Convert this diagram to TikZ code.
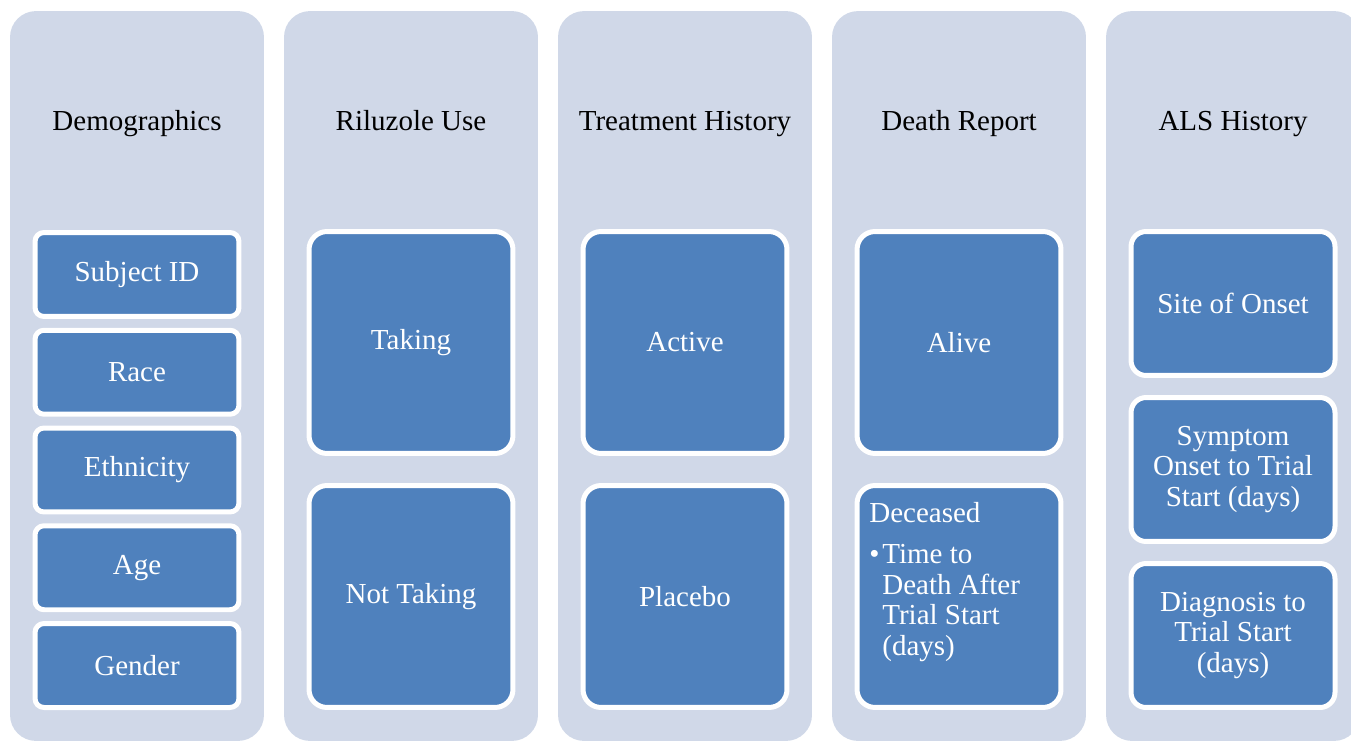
\documentclass[tikz,border=0pt]{standalone}
\usepackage{fontspec}
\setmainfont{Liberation Serif}
\usetikzlibrary{positioning}
\definecolor{colfill}{HTML}{D0D8E8}
\definecolor{boxblue}{HTML}{4F81BD}

\begin{document}
\begin{tikzpicture}[x=0.02cm, y=-0.02cm,
  every node/.style={font=\fontsize{16.5}{17.4}\selectfont},
  colbg/.style={fill=colfill, rounded corners=0.52cm, minimum width=5.08cm, minimum height=14.6cm, inner sep=0pt},
  coltitle/.style={text=black, anchor=base},
  item/.style={fill=boxblue, draw=white, line width=0.1cm, text=white, align=center, minimum width=4.08cm, inner sep=0pt},
  shortbox/.style={item, minimum height=1.68cm, rounded corners=0.18cm},
  tallbox/.style={item, minimum height=4.44cm, rounded corners=0.36cm},
  midbox/.style={item, minimum height=2.88cm, rounded corners=0.3cm}]
\useasboundingbox (0,0) rectangle (1351,740);
\clip (0,0) rectangle (1351,740);

\node[colbg] (demo) at (137,376) {};
\node[colbg] (rilu) at (411,376) {};
\node[colbg] (treat) at (685,376) {};
\node[colbg] (death) at (959,376) {};
\node[colbg] (als) at (1233,376) {};

\node[coltitle] (demoT) at (137,131) {Demographics};
\node[coltitle] (riluT) at (411,131) {Riluzole Use};
\node[coltitle] (treatT) at (685,131) {Treatment History};
\node[coltitle] (deathT) at (959,131) {Death Report};
\node[coltitle] (alsT) at (1233,131) {ALS History};

\node[shortbox] (subj) at (137,274.5) {Subject ID};
\node[shortbox] (race) at (137,372.25) {Race};
\node[shortbox] (eth) at (137,470) {Ethnicity};
\node[shortbox] (age) at (137,567.75) {Age};
\node[shortbox] (gend) at (137,665.5) {Gender};

\node[tallbox] (taking) at (411,342.5) {Taking};
\node[tallbox] (nottaking) at (411,596.5) {Not Taking};

\node[tallbox] (active) at (685,342.5) {Active};
\node[tallbox] (placebo) at (685,596.5) {Placebo};

\node[tallbox] (alive) at (959,342.5) {Alive};
\node[tallbox] (dec) at (959,596.5) {};
\node[text=white, align=left, inner sep=0pt, anchor=north west] (decT) at (869,502)
  {Deceased\\[0.21cm]\makebox[0.26cm][l]{\textbullet}Time to\\\hspace*{0.26cm}Death After\\\hspace*{0.26cm}Trial Start\\\hspace*{0.26cm}(days)};

\node[midbox] (onset) at (1233,303.5) {Site of Onset};
\node[midbox] (symp) at (1233,469.5) {Symptom\\Onset to Trial\\Start (days)};
\node[midbox] (diag) at (1233,635.5) {Diagnosis to\\Trial Start\\(days)};
\end{tikzpicture}
\end{document}
